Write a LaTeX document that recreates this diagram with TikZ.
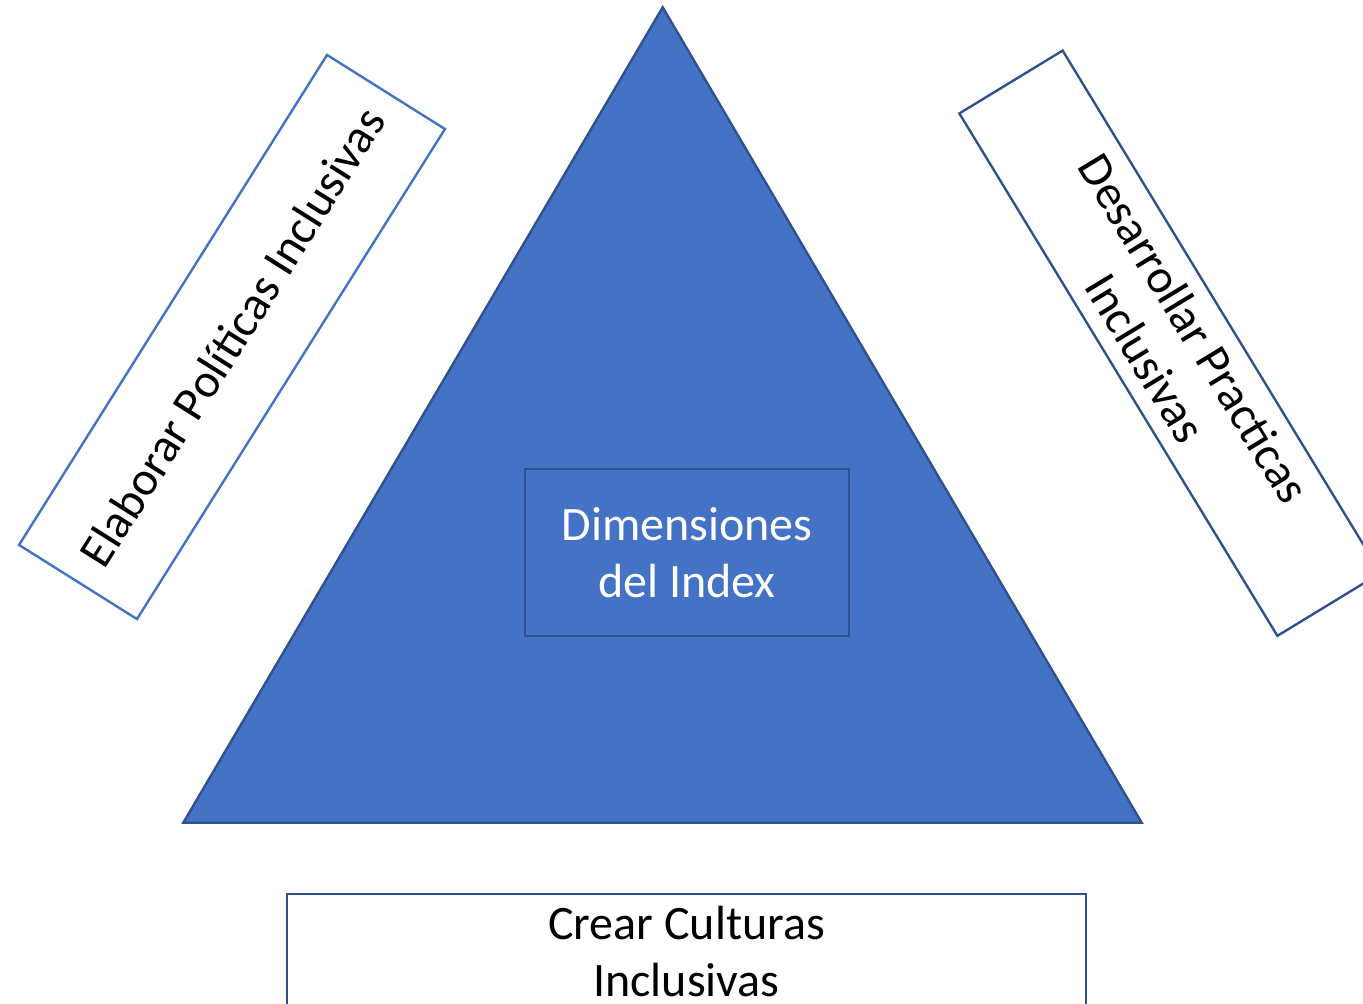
\documentclass[tikz,border=0pt]{standalone}
\usepackage{fontspec}
\setmainfont{Carlito}
\usepackage{tikz}

\definecolor{idxblue}{HTML}{4472C4}
\definecolor{idxdark}{HTML}{2F528F}

\begin{document}
\begin{tikzpicture}[x=1pt, y=-1pt,
  every node/.style={font=\fontsize{48}{57}\selectfont, align=center, outer sep=0pt},
  sidebox/.style={draw=idxdark, line width=2.4pt, fill=white},
  dimbox/.style={draw=idxdark, line width=2.6pt, fill=idxblue, text=white}]
\useasboundingbox (0,0) rectangle (1363,1004);
\clip (0,0) rectangle (1363,1004);

\draw[draw=idxdark, fill=idxblue, line width=2.4pt] (662.7,7.3) -- (183.3,822.7) -- (1141.7,822.7) -- cycle;

\node[dimbox, minimum width=324, minimum height=167] (dim) at (687,552.5) {Dimensiones\\del Index};

\node[sidebox, draw=idxblue, rotate=57.85, minimum width=578.8, minimum height=139.3] (politicas) at (232,337) {Elaborar Políticas Inclusivas};
\node[sidebox, rotate=-58.67, minimum width=611.6, minimum height=120.9] (practicas) at (1170,343.2) {Desarrollar Practicas\\Inclusivas};
\node[sidebox, minimum width=799, minimum height=114] (culturas) at (686.5,951) {Crear Culturas\\Inclusivas};
\end{tikzpicture}
\end{document}
